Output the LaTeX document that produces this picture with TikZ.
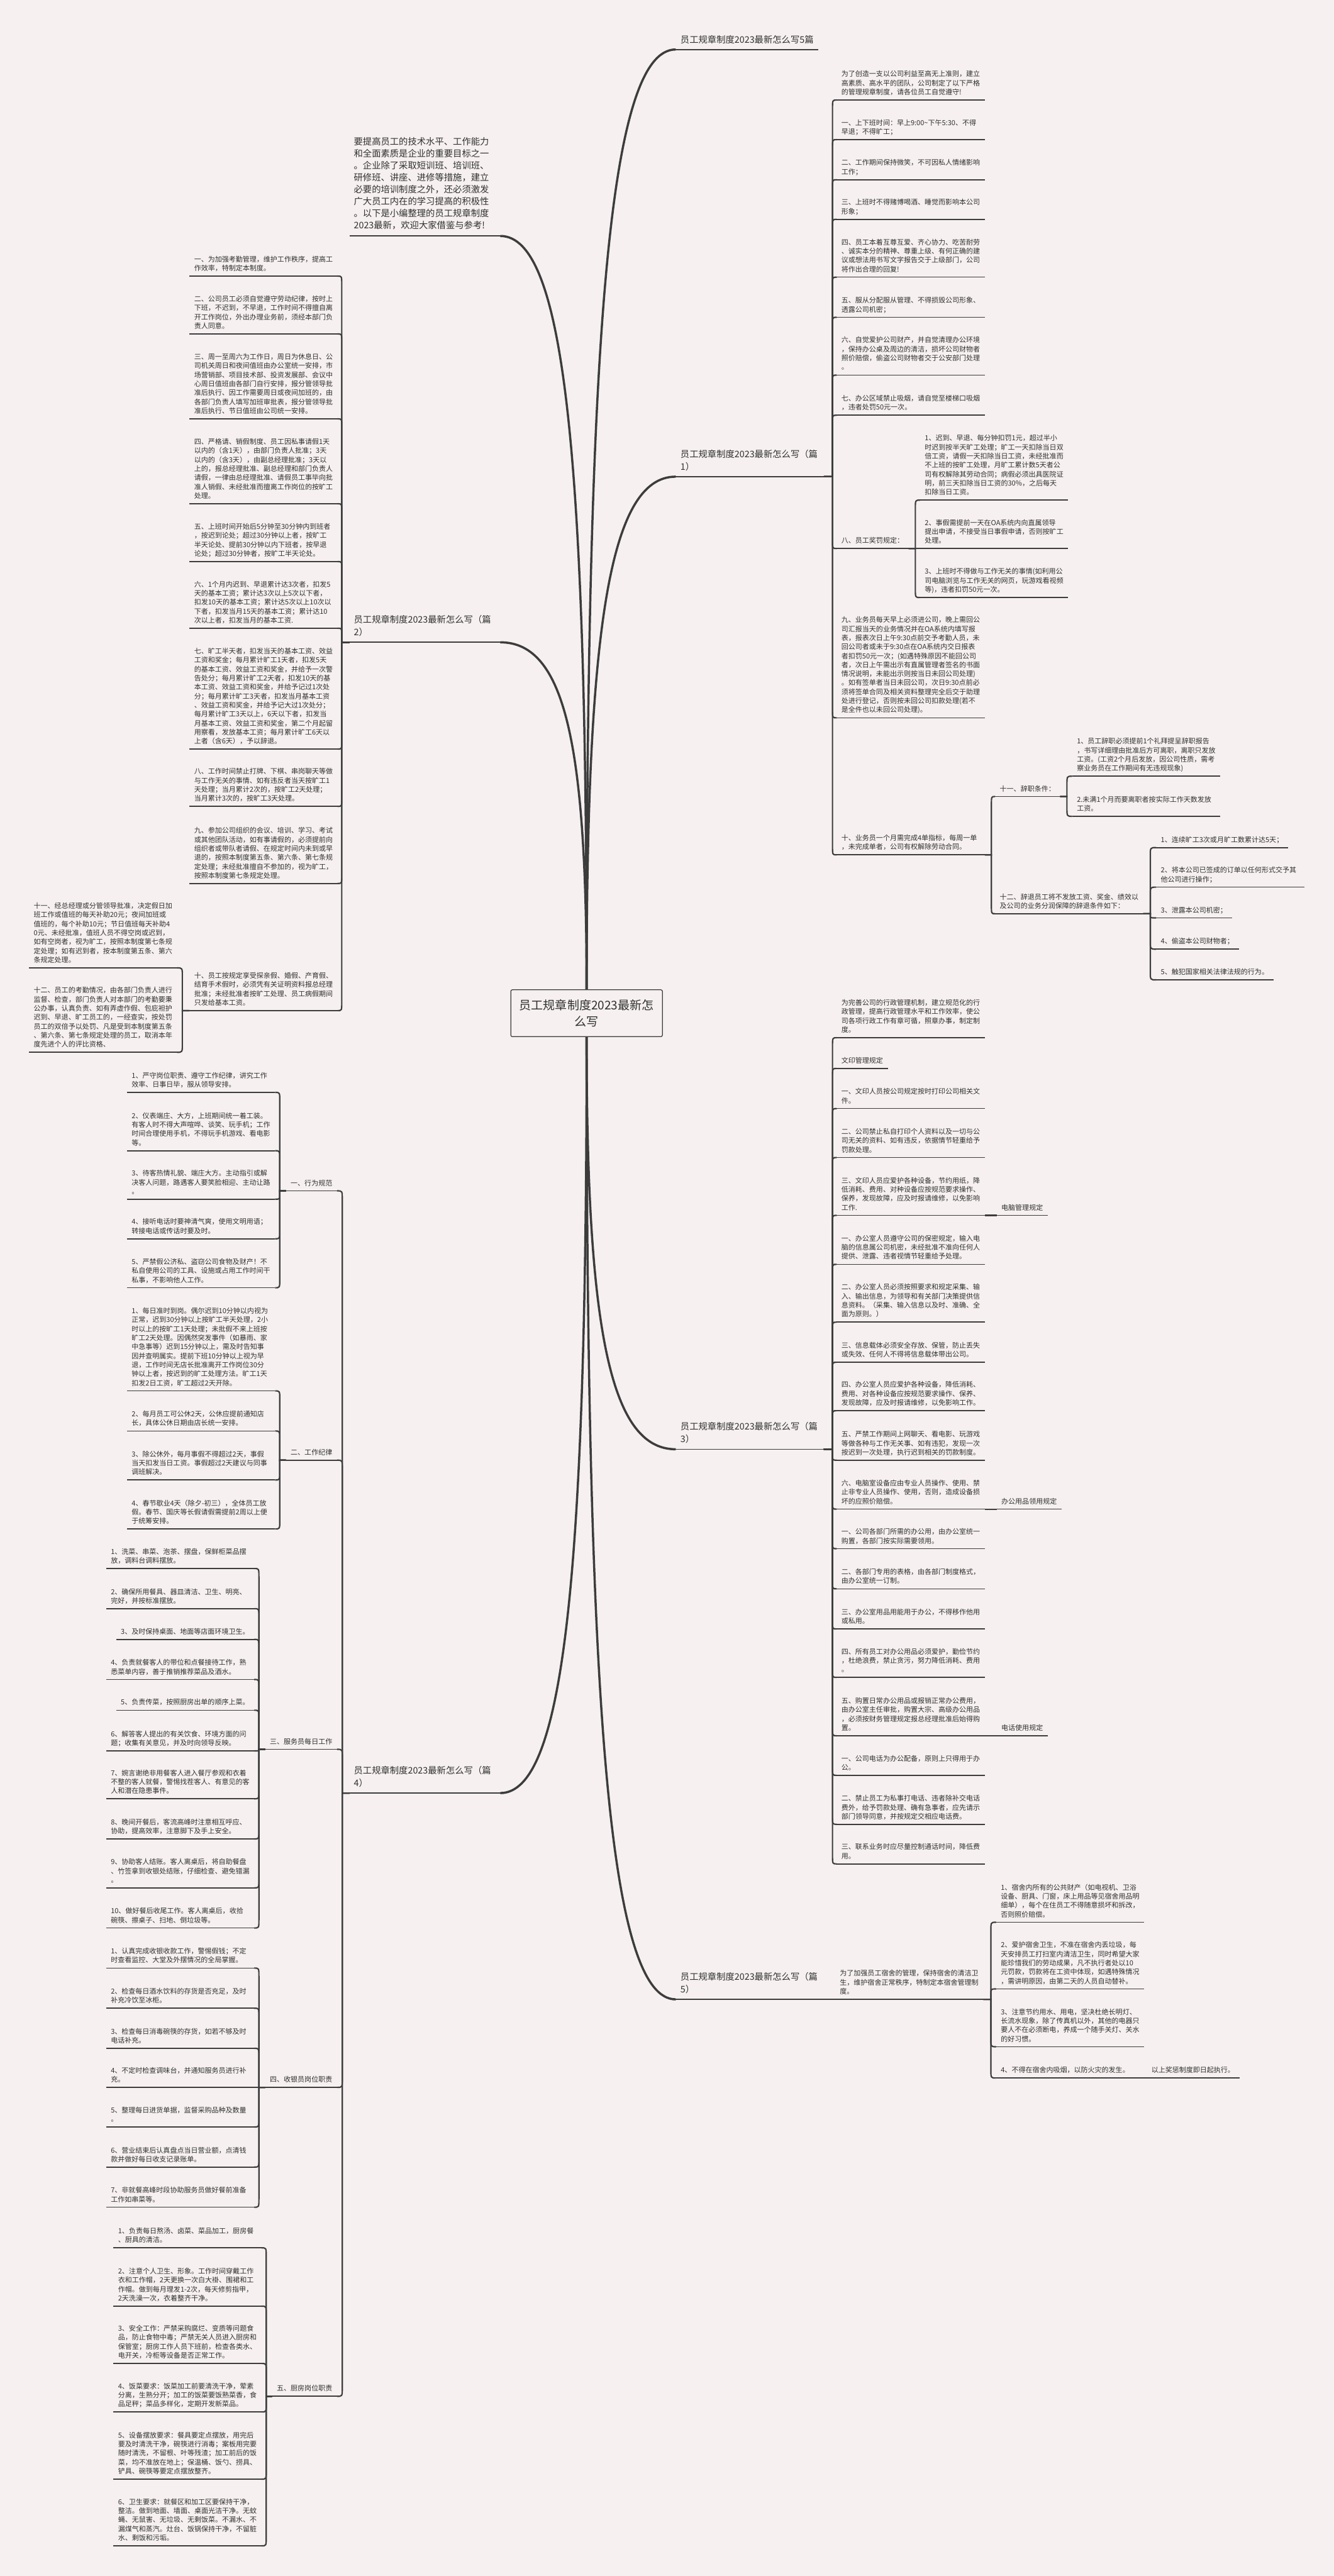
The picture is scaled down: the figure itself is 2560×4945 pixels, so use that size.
\documentclass[tikz,border=0pt]{standalone}
\usepackage{fontspec}
\setmainfont{Noto Sans CJK SC}
\usetikzlibrary{calc}
\definecolor{bgc}{RGB}{246,240,240}
\definecolor{linec}{RGB}{60,60,60}
\definecolor{txtc}{RGB}{48,48,48}
\newcommand\fs{\fontsize{13.3pt}{17.3pt}\selectfont}
\newcommand\fb{\fontsize{17.3pt}{24pt}\selectfont}
\newcommand\zdep[1]{\rule[-#1]{0pt}{#1}}
\tikzset{
  basen/.style={inner xsep=9pt, inner ysep=6pt, text=txtc, font=\fs, align=left},
  itemR/.style={basen, anchor=south west, text width=266pt},
  itemL/.style={basen, anchor=south east, text width=266pt},
  shortR/.style={basen, anchor=south west},
  shortL/.style={basen, anchor=south east, align=right},
  blabR/.style={inner xsep=9pt, inner ysep=8pt, text=txtc, font=\fb, align=left, anchor=south west, text width=266pt},
  blabL/.style={inner xsep=8pt, inner ysep=8pt, text=txtc, font=\fb, align=left, anchor=south west, text width=273pt},
  ul/.style={line width=2pt, draw=linec},
  conn/.style={line width=2.6pt, draw=linec},
  hubc/.style={line width=4.2pt, draw=linec},
}
\newcommand\itR[4]{\node[itemR] (#1) at (#2,#3) {#4\zdep{4pt}}; \draw[ul] (#1.south west)--(#1.south east);}
\newcommand\itRs[4]{\node[shortR] (#1) at (#2,#3) {#4\zdep{4pt}}; \draw[ul] (#1.south west)--(#1.south east);}
\newcommand\itL[4]{\node[itemL] (#1) at (#2,#3) {#4\zdep{4pt}}; \draw[ul] (#1.south west)--(#1.south east);}
\newcommand\itLs[4]{\node[shortL] (#1) at (#2,#3) {#4\zdep{4pt}}; \draw[ul] (#1.south west)--(#1.south east);}
\newcommand\cn[3]{\draw[conn] let \p1=(#1), \p2=(#2), \n1={ifthenelse(\y2>\y1,1,-1)*min(16,abs(\y2-\y1)/2)} in (\p1) -- (#3,\y1) -- (#3,\y2-\n1*1pt) .. controls (#3,\y2) .. (\p2);}
\begin{document}
\begin{tikzpicture}[x=1pt,y=-1pt]
\fill[bgc] (0,0) rectangle (2560,4945);
\useasboundingbox (0,0) rectangle (2560,4945);

% root
\node[draw=linec, line width=1.5pt, fill=bgc, rounded corners=3pt, minimum width=291pt, minimum height=90pt, align=center, font=\fontsize{23pt}{31pt}\selectfont, text=txtc] (root) at (1126,1945) {员工规章制度2023最新怎\\么写};

% ---------- first-level labels
\node[inner xsep=9pt, inner ysep=8pt, text=txtc, font=\fb, anchor=south west] (b0) at (1297,95) {员工规章制度2023最新怎么写5篇\zdep{4.5pt}};
\draw[ul] (b0.south west)--(b0.south east);
\node[blabR] (b1) at (1297,915) {员工规章制度2023最新怎么写（篇\\1）\zdep{4.5pt}};
\draw[ul] (b1.south west)--(b1.south east);
\node[blabR] (b3) at (1297,2782) {员工规章制度2023最新怎么写（篇\\3）\zdep{4.5pt}};
\draw[ul] (b3.south west)--(b3.south east);
\node[blabR] (b5) at (1297,3838) {员工规章制度2023最新怎么写（篇\\5）\zdep{4.5pt}};
\draw[ul] (b5.south west)--(b5.south east);
\node[inner xsep=8pt, inner ysep=8.5pt, text=txtc, font=\fontsize{17.3pt}{23pt}\selectfont, align=left, anchor=south west, text width=273pt] (intro) at (671,453) {要提高员工的技术水平、工作能力\\和全面素质是企业的重要目标之一\\。企业除了采取短训班、培训班、\\研修班、讲座、进修等措施，建立\\必要的培训制度之外，还必须激发\\广大员工内在的学习提高的积极性\\。以下是小编整理的员工规章制度\\2023最新，欢迎大家借鉴与参考!\zdep{5pt}};
\draw[ul] (intro.south west)--(intro.south east);
\node[blabL] (b2) at (671,1233) {员工规章制度2023最新怎么写（篇\\2）\zdep{4.5pt}};
\draw[ul] (b2.south west)--(b2.south east);
\node[blabL] (b4) at (671,3442) {员工规章制度2023最新怎么写（篇\\4）\zdep{4.5pt}};
\draw[ul] (b4.south west)--(b4.south east);

% hub curves
\draw[hubc] (root.north) .. controls +(0,-1262) and +(-128,0) .. (b0.south west);
\draw[hubc] (root.north) .. controls +(0,-688) and +(-128,0) .. (b1.south west);
\draw[hubc] (root.south) .. controls +(0,552) and +(-128,0) .. (b3.south west);
\draw[hubc] (root.south) .. controls +(0,1292) and +(-128,0) .. (b5.south west);
\draw[hubc] (root.north) .. controls +(0,-1012) and +(125,0) .. (intro.south east);
\draw[hubc] (root.north) .. controls +(0,-466) and +(125,0) .. (b2.south east);
\draw[hubc] (root.south) .. controls +(0,1014) and +(125,0) .. (b4.south east);

% ---------- 篇1
\itR{r0}{1606}{192}{为了创造一支以公司利益至高无上准则，建立\\高素质、高水平的团队，公司制定了以下严格\\的管理规章制度，请各位员工自觉遵守!}
\itR{r1}{1606}{268}{一、上下班时间：早上9:00\textasciitilde 下午5:30、不得\\早退；不得旷工；}
\itR{r2}{1606}{345}{二、工作期间保持微笑，不可因私人情绪影响\\工作；}
\itR{r3}{1606}{421}{三、上班时不得赌博喝酒、睡觉而影响本公司\\形象；}
\itR{r4}{1606}{532}{四、员工本着互尊互爱、齐心协力、吃苦耐劳\\、诚实本分的精神、尊重上级、有何正确的建\\议或想法用书写文字报告交于上级部门，公司\\将作出合理的回复!}
\itR{r5}{1606}{609}{五、服从分配服从管理、不得损毁公司形象、\\透露公司机密；}
\itR{r6}{1606}{720}{六、自觉爱护公司财产，并自觉清理办公环境\\，保持办公桌及周边的清洁，损坏公司财物者\\照价赔偿，偷盗公司财物者交于公安部门处理\\。}
\itR{r7}{1606}{797}{七、办公区域禁止吸烟，请自觉至楼梯口吸烟\\，违者处罚50元一次。}
\itRs{r8}{1606}{1053}{八、员工奖罚规定：}
\itR{r8a}{1766}{960}{1、迟到、早退、每分钟扣罚1元，超过半小\\时迟到按半天旷工处理；旷工一天扣除当日双\\倍工资，请假一天扣除当日工资，未经批准而\\不上班的按旷工处理，月旷工累计数5天者公\\司有权解除其劳动合同；病假必须出具医院证\\明，前三天扣除当日工资的30\%，之后每天\\扣除当日工资。}
\itR{r8b}{1766}{1053}{2、事假需提前一天在OA系统内向直属领导\\提出申请，不接受当日事假申请，否则按旷工\\处理。}
\itR{r8c}{1766}{1147}{3、上班时不得做与工作无关的事情(如利用公\\司电脑浏览与工作无关的网页，玩游戏看视频\\等)，违者扣罚50元一次。}
\itR{r9}{1606}{1378}{九、业务员每天早上必须进公司，晚上需回公\\司汇报当天的业务情况并在OA系统内填写报\\表，报表次日上午9:30点前交予考勤人员，未\\回公司者或未于9:30点在OA系统内交日报表\\者扣罚50元一次；(如遇特殊原因不能回公司\\者，次日上午需出示有直属管理者签名的书面\\情况说明，未能出示则按当日未回公司处理)\\。如有签单者当日未回公司，次日9:30点前必\\须将签单合同及相关资料整理完全后交于助理\\处进行登记，否则按未回公司扣款处理(若不\\是全件也以未回公司处理)。}
\itR{r10}{1606}{1641}{十、业务员一个月需完成4单指标，每周一单\\，未完成单者，公司有权解除劳动合同。}
\itRs{r11}{1910}{1529}{十一、辞职条件：}
\itR{r11a}{2058}{1490}{1、员工辞职必须提前1个礼拜提呈辞职报告\\，书写详细理由批准后方可离职，离职只发放\\工资。(工资2个月后发放，因公司性质，需考\\察业务员在工作期间有无违规现象)}
\itR{r11b}{2058}{1567}{2.未满1个月而要离职者按实际工作天数发放\\工资。}
\itR{r12}{1910}{1754}{十二、辞退员工将不发放工资、奖金、绩效以\\及公司的业务分润保障的辞退条件如下：}
\itRs{r12a}{2219}{1627}{1、连续旷工3次或月旷工数累计达5天；}
\itR{r12b}{2219}{1703}{2、将本公司已签成的订单以任何形式交予其\\他公司进行操作；}
\itRs{r12c}{2219}{1762}{3、泄露本公司机密；}
\itRs{r12d}{2219}{1822}{4、偷盗本公司财物者；}
\itRs{r12e}{2219}{1881}{5、触犯国家相关法律法规的行为。}

\foreach \c in {r0,r1,r2,r3,r4,r5,r6,r7,r8,r9,r10} {\cn{b1.south east}{\c.south west}{1598pt}}
\foreach \c in {r8a,r8b,r8c} {\cn{r8.south east}{\c.south west}{1757pt}}
\foreach \c in {r11,r12} {\cn{r10.south east}{\c.south west}{1903pt}}
\foreach \c in {r11a,r11b} {\cn{r11.south east}{\c.south west}{2048pt}}
\foreach \c in {r12a,r12b,r12c,r12d,r12e} {\cn{r12.south east}{\c.south west}{2208pt}}

% ---------- 篇3
\itR{s0}{1606}{1992}{为完善公司的行政管理机制，建立规范化的行\\政管理，提高行政管理水平和工作效率，使公\\司各项行政工作有章可循，照章办事，制定制\\度。}
\itRs{s1}{1606}{2051}{文印管理规定}
\itR{s2}{1606}{2128}{一、文印人员按公司规定按时打印公司相关文\\件。}
\itR{s3}{1606}{2222}{二、公司禁止私自打印个人资料以及一切与公\\司无关的资料、如有违反，依据情节轻重给予\\罚款处理。}
\itR{s4}{1606}{2333}{三、文印人员应爱护各种设备，节约用纸，降\\低消耗、费用、对种设备应按规范要求操作、\\保养，发现故障，应及时报请维修，以免影响\\工作.}
\itRs{s4x}{1913}{2333}{电脑管理规定}
\itR{s5}{1606}{2427}{一、办公室人员遵守公司的保密规定，输入电\\脑的信息属公司机密，未经批准不准向任何人\\提供、泄露、违者视情节轻重给予处理。}
\itR{s6}{1606}{2538}{二、办公室人员必须按照要求和规定采集、输\\入、输出信息，为领导和有关部门决策提供信\\息资料。（采集、输入信息以及时、准确、全\\面为原则。）}
\itR{s7}{1606}{2615}{三、信息载体必须安全存放、保管，防止丢失\\或失效、任何人不得将信息载体带出公司。}
\itR{s8}{1606}{2708}{四、办公室人员应爱护各种设备，降低消耗、\\费用、对各种设备应按规范要求操作、保养、\\发现故障，应及时报请维修，以免影响工作。}
\itR{s9}{1606}{2803}{五、严禁工作期间上网聊天、看电影、玩游戏\\等做各种与工作无关事、如有违犯，发现一次\\按迟到一次处理，执行迟到相关的罚款制度。}
\itR{s10}{1606}{2897}{六、电脑室设备应由专业人员操作、使用、禁\\止非专业人员操作、使用，否则，造成设备损\\坏的应照价赔偿。}
\itRs{s10x}{1913}{2897}{办公用品领用规定}
\itR{s11}{1606}{2973}{一、公司各部门所需的办公用，由办公室统一\\购置，各部门按实际需要领用。}
\itR{s12}{1606}{3050}{二、各部门专用的表格，由各部门制度格式，\\由办公室统一订制。}
\itR{s13}{1606}{3127}{三、办公室用品用能用于办公，不得移作他用\\或私用。}
\itR{s14}{1606}{3220}{四、所有员工对办公用品必须爱护，勤俭节约\\，杜绝浪费，禁止贪污，努力降低消耗、费用\\。}
\itR{s15}{1606}{3332}{五、购置日常办公用品或报销正常办公费用，\\由办公室主任审批，购置大宗、高级办公用品\\，必须按财务管理规定报总经理批准后始得购\\置。}
\itRs{s15x}{1913}{3332}{电话使用规定}
\itR{s16}{1606}{3408}{一、公司电话为办公配备，原则上只得用于办\\公。}
\itR{s17}{1606}{3502}{二、禁止员工为私事打电话、违者除补交电话\\费外，给予罚款处理、确有急事者，应先请示\\部门领导同意，并按规定交相应电话费。}
\itR{s18}{1606}{3578}{三、联系业务时应尽量控制通话时间，降低费\\用。}
\foreach \c in {s0,s1,s2,s3,s4,s5,s6,s7,s8,s9,s10,s11,s12,s13,s14,s15,s16,s17,s18} {\cn{b3.south east}{\c.south west}{1598pt}}
\draw[conn] (s4.south east) -- (s4x.south west);
\draw[conn] (s10.south east) -- (s10x.south west);
\draw[conn] (s15.south east) -- (s15x.south west);

% ---------- 篇5
\itR{p0}{1603}{3838}{为了加强员工宿舍的管理，保持宿舍的清洁卫\\生，维护宿舍正常秩序，特制定本宿舍管理制\\度。}
\draw[conn] (b5.south east) -- (p0.south west);
\itR{p1}{1912}{3690}{1、宿舍内所有的公共财产（如电视机、卫浴\\设备、厨具、门窗，床上用品等见宿舍用品明\\细单），每个在住员工不得随意损坏和拆改，\\否则照价赔偿。}
\itR{p2}{1912}{3818}{2、爱护宿舍卫生，不准在宿舍内丢垃圾，每\\天安排员工打扫室内清洁卫生，同时希望大家\\能珍惜我们的劳动成果，凡不执行者处以10\\元罚款，罚款将在工资中体现，如遇特殊情况\\，需讲明原因，由第二天的人员自动替补。}
\itR{p3}{1912}{3929}{3、注意节约用水、用电，坚决杜绝长明灯、\\长流水现象，除了传真机以外，其他的电器只\\要人不在必须断电，养成一个随手关灯、关水\\的好习惯。}
\itR{p4}{1912}{3989}{4、不得在宿舍内吸烟，以防火灾的发生。}
\itRs{p5}{2201}{3989}{以上奖惩制度即日起执行。}
\foreach \c in {p1,p2,p3,p4} {\cn{p0.south east}{\c.south west}{1902pt}}
\draw[conn] (p4.south east) -- (p5.south west);

% ---------- 篇2
\itL{q1}{648}{530}{一、为加强考勤管理，维护工作秩序，提高工\\作效率，特制定本制度。}
\itL{q2}{648}{641}{二、公司员工必须自觉遵守劳动纪律，按时上\\下班，不迟到，不早退，工作时间不得擅自离\\开工作岗位，外出办理业务前，须经本部门负\\责人同意。}
\itL{q3}{648}{804}{三、周一至周六为工作日，周日为休息日、公\\司机关周日和夜间值班由办公室统一安排，市\\场营销部、项目技术部、投资发展部、会议中\\心周日值班由各部门自行安排，报分管领导批\\准后执行、因工作需要周日或夜间加班的，由\\各部门负责人填写加班审批表，报分管领导批\\准后执行、节日值班由公司统一安排。}
\itL{q4}{648}{967}{四、严格请、销假制度、员工因私事请假1天\\以内的（含1天），由部门负责人批准；3天\\以内的（含3天），由副总经理批准；3天以\\上的，报总经理批准、副总经理和部门负责人\\请假，一律由总经理批准、请假员工事毕向批\\准人销假、未经批准而擅离工作岗位的按旷工\\处理。}
\itL{q5}{648}{1078}{五、上班时间开始后5分钟至30分钟内到班者\\，按迟到论处；超过30分钟以上者，按旷工\\半天论处、提前30分钟以内下班者，按早退\\论处；超过30分钟者，按旷工半天论处。}
\itL{q6}{648}{1206}{六、1个月内迟到、早退累计达3次者，扣发5\\天的基本工资；累计达3次以上5次以下者，\\扣发10天的基本工资；累计达5次以上10次以\\下者，扣发当月15天的基本工资；累计达10\\次以上者，扣发当月的基本工资.}
\itL{q7}{648}{1438}{七、旷工半天者，扣发当天的基本工资、效益\\工资和奖金；每月累计旷工1天者，扣发5天\\的基本工资、效益工资和奖金，并给予一次警\\告处分；每月累计旷工2天者，扣发10天的基\\本工资、效益工资和奖金，并给予记过1次处\\分；每月累计旷工3天者，扣发当月基本工资\\、效益工资和奖金，并给予记大过1次处分；\\每月累计旷工3天以上，6天以下者，扣发当\\月基本工资、效益工资和奖金，第二个月起留\\用察看，发放基本工资；每月累计旷工6天以\\上者（含6天），予以辞退。}
\itL{q8}{648}{1548}{八、工作时间禁止打牌、下棋、串岗聊天等做\\与工作无关的事情、如有违反者当天按旷工1\\天处理；当月累计2次的，按旷工2天处理；\\当月累计3次的，按旷工3天处理。}
\itL{q9}{648}{1696}{九、参加公司组织的会议、培训、学习、考试\\或其他团队活动，如有事请假的，必须提前向\\组织者或带队者请假、在规定时间内未到或早\\退的，按照本制度第五条、第六条、第七条规\\定处理；未经批准擅自不参加的，视为旷工，\\按照本制度第七条规定处理。}
\itL{q10}{648}{1940}{十、员工按规定享受探亲假、婚假、产育假、\\结育手术假时，必须凭有关证明资料报总经理\\批准；未经批准者按旷工处理、员工病假期间\\只发给基本工资。}
\itL{q11}{340}{1858}{十一、经总经理或分管领导批准，决定假日加\\班工作或值班的每天补助20元；夜间加班或\\值班的，每个补助10元；节日值班每天补助4\\0元、未经批准，值班人员不得空岗或迟到，\\如有空岗者，视为旷工，按照本制度第七条规\\定处理；如有迟到者，按本制度第五条、第六\\条规定处理。}
\itL{q12}{340}{2020}{十二、员工的考勤情况，由各部门负责人进行\\监督、检查，部门负责人对本部门的考勤要秉\\公办事，认真负责、如有弄虚作假、包庇袒护\\迟到、早退、旷工员工的，一经查实，按处罚\\员工的双倍予以处罚、凡是受到本制度第五条\\、第六条、第七条规定处理的员工，取消本年\\度先进个人的评比资格、}
\foreach \c in {q1,q2,q3,q4,q5,q6,q7,q8,q9,q10} {\cn{b2.south west}{\c.south east}{656pt}}
\foreach \c in {q11,q12} {\cn{q10.south west}{\c.south east}{350pt}}

% ---------- 篇4
\itLs{L1}{647}{2286}{一、行为规范}
\itLs{L2}{647}{2803}{二、工作纪律}
\itLs{L3}{647}{3358}{三、服务员每日工作}
\itLs{L4}{647}{4007}{四、收银员岗位职责}
\itLs{L5}{647}{4600}{五、厨房岗位职责}
\foreach \c in {L1,L2,L3,L4,L5} {\cn{b4.south west}{\c.south east}{657pt}}

\itL{a1}{528}{2097}{1、严守岗位职责、遵守工作纪律，讲究工作\\效率、日事日毕，服从领导安排。}
\itL{a2}{528}{2209}{2、仪表端庄、大方，上班期间统一着工装。\\有客人时不得大声喧哗、谈笑、玩手机；工作\\时间合理使用手机，不得玩手机游戏、看电影\\等。}
\itL{a3}{528}{2302}{3、待客热情礼貌、端庄大方。主动指引或解\\决客人问题，路遇客人要笑脸相迎、主动让路\\。}
\itL{a4}{528}{2378}{4、接听电话时要神清气爽，使用文明用语；\\转接电话或传话时要及时。}
\itL{a5}{528}{2472}{5、严禁假公济私、盗窃公司食物及财产！不\\私自使用公司的工具、设施或占用工作时间干\\私事，不影响他人工作。}
\foreach \c in {a1,a2,a3,a4,a5} {\cn{L1.south west}{\c.south east}{537pt}}

\itL{c1}{528}{2670}{1、每日准时到岗。偶尔迟到10分钟以内视为\\正常，迟到30分钟以上按旷工半天处理，2小\\时以上的按旷工1天处理；未批假不来上班按\\旷工2天处理。因偶然突发事件（如暴雨、家\\中急事等）迟到15分钟以上，需及时告知事\\因并查明属实。提前下班10分钟以上视为早\\退，工作时间无店长批准离开工作岗位30分\\钟以上者，按迟到的旷工处理方法。旷工1天\\扣发2日工资，旷工超过2天开除。}
\itL{c2}{528}{2747}{2、每月员工可公休2天，公休应提前通知店\\长，具体公休日期由店长统一安排。}
\itL{c3}{528}{2841}{3、除公休外，每月事假不得超过2天，事假\\当天扣发当日工资。事假超过2天建议与同事\\调班解决。}
\itL{c4}{528}{2935}{4、春节歇业4天（除夕-初三），全体员工放\\假。春节、国庆等长假请假需提前2周以上便\\于统筹安排。}
\foreach \c in {c1,c2,c3,c4} {\cn{L2.south west}{\c.south east}{537pt}}

\itL{d1}{488}{3011}{1、洗菜、串菜、泡茶、摆盘，保鲜柜菜品摆\\放，调料台调料摆放。}
\itL{d2}{488}{3088}{2、确保所用餐具、器皿清洁、卫生、明亮、\\完好，并按标准摆放。}
\itLs{d3}{488}{3147}{3、及时保持桌面、地面等店面环境卫生。}
\itL{d4}{488}{3224}{4、负责就餐客人的带位和点餐接待工作，熟\\悉菜单内容，善于推销推荐菜品及酒水。}
\itLs{d5}{488}{3283}{5、负责传菜，按照厨房出单的顺序上菜。}
\itL{d6}{488}{3361}{6、解答客人提出的有关饮食、环境方面的问\\题；收集有关意见，并及时向领导反映。}
\itL{d7}{488}{3453}{7、婉言谢绝非用餐客人进入餐厅参观和衣着\\不整的客人就餐，警惕找茬客人、有意见的客\\人和潜在隐患事件。}
\itL{d8}{488}{3530}{8、晚间开餐后，客流高峰时注意相互呼应、\\协助，提高效率，注意脚下及手上安全。}
\itL{d9}{488}{3624}{9、协助客人结账。客人离桌后，将自助餐盘\\、竹签拿到收银处结账，仔细检查、避免错漏\\。}
\itL{d10}{488}{3701}{10、做好餐后收尾工作。客人离桌后，收拾\\碗筷、擦桌子、扫地、倒垃圾等。}
\foreach \c in {d1,d2,d3,d4,d5,d6,d7,d8,d9,d10} {\cn{L3.south west}{\c.south east}{497pt}}

\itL{e1}{488}{3778}{1、认真完成收银收款工作，警惕假钱；不定\\时查看监控、大堂及外摆情况的全局掌握。}
\itL{e2}{488}{3855}{2、检查每日酒水饮料的存货是否充足，及时\\补充冷饮至冰柜。}
\itL{e3}{488}{3932}{3、检查每日消毒碗筷的存货，如若不够及时\\电话补充。}
\itL{e4}{488}{4007}{4、不定时检查调味台，并通知服务员进行补\\充。}
\itL{e5}{488}{4083}{5、整理每日进货单据，监督采购品种及数量\\。}
\itL{e6}{488}{4160}{6、营业结束后认真盘点当日营业额，点清钱\\款并做好每日收支记录账单。}
\itL{e7}{488}{4237}{7、非就餐高峰时段协助服务员做好餐前准备\\工作如串菜等。}
\foreach \c in {e1,e2,e3,e5,e6,e7} {\cn{L4.south west}{\c.south east}{497pt}}
\draw[conn] (L4.south west) -- (e4.south east);

\itL{f1}{502}{4315}{1、负责每日熬汤、卤菜、菜品加工，厨房餐\\、厨具的清洁。}
\itL{f2}{502}{4427}{2、注意个人卫生、形象。工作时间穿戴工作\\衣和工作帽，2天更换一次白大褂、围裙和工\\作帽。做到每月理发1-2次，每天修剪指甲，\\2天洗澡一次，衣着整齐干净。}
\itL{f3}{502}{4537}{3、安全工作：严禁采购腐烂、变质等问题食\\品，防止食物中毒；严禁无关人员进入厨房和\\保管室；厨房工作人员下班前，检查各类水、\\电开关，冷柜等设备是否正常工作。}
\itL{f4}{502}{4630}{4、饭菜要求：饭菜加工前要清洗干净，荤素\\分离，生熟分开；加工的饭菜要饭熟菜香，食\\品足秤；菜品多样化，定期开发新菜品。}
\itL{f5}{502}{4759}{5、设备摆放要求：餐具要定点摆放，用完后\\要及时清洗干净，碗筷进行消毒；案板用完要\\随时清洗，不留根、叶等残渣；加工前后的饭\\菜，均不准放在地上；保温桶、饭勺、捞具、\\铲具、碗筷等要定点摆放整齐。}
\itL{f6}{502}{4887}{6、卫生要求：就餐区和加工区要保持干净，\\整洁。做到地面、墙面、桌面光洁干净。无蚊\\蝇、无鼠害、无垃圾、无剩饭菜。不漏水、不\\漏煤气和蒸汽。灶台、饭锅保持干净，不留脏\\水、剩饭和污垢。}
\foreach \c in {f1,f2,f3,f4,f5,f6} {\cn{L5.south west}{\c.south east}{511pt}}

\end{tikzpicture}
\end{document}
